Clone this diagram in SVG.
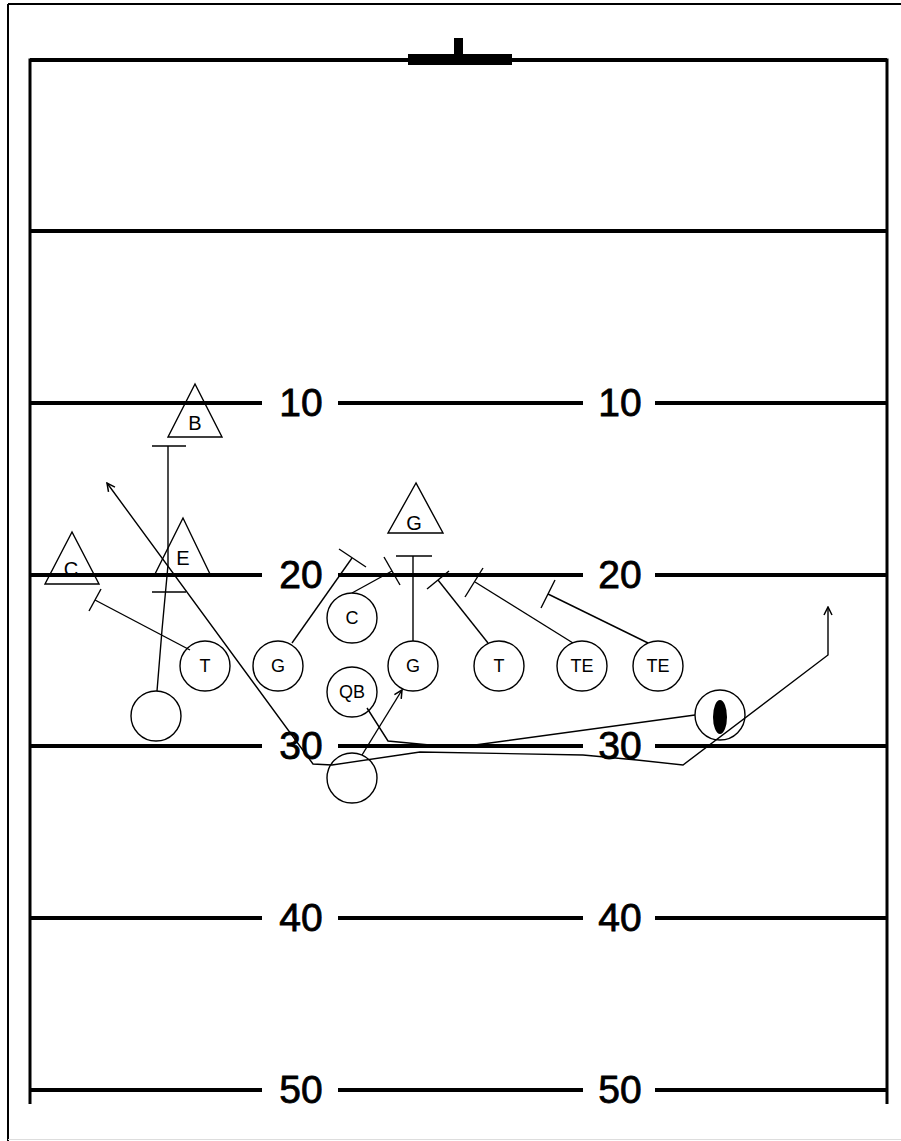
<svg xmlns="http://www.w3.org/2000/svg" width="901" height="1141" viewBox="0 0 901 1141">
<style>
.frame{stroke:#000;stroke-width:2;fill:none}
.field{stroke:#000;stroke-width:4;fill:none}
.side{stroke:#000;stroke-width:3;fill:none}
.num{font-family:"Liberation Sans",Arial,sans-serif;font-size:39px;fill:#000;stroke:#000;stroke-width:0.8;text-anchor:middle}
.pl{fill:none;stroke:#000;stroke-width:1.4}
.lbl{font-family:"Liberation Sans",Arial,sans-serif;font-size:18px;fill:#000;text-anchor:middle}
.tl{font-family:"Liberation Sans",Arial,sans-serif;font-size:20px;fill:#000;text-anchor:middle}
.rt{fill:none;stroke:#000;stroke-width:1.4}
</style>
<defs>
<marker id="arr" viewBox="0 0 10 10" refX="9" refY="5" markerWidth="10" markerHeight="10" markerUnits="userSpaceOnUse" orient="auto-start-reverse">
<path d="M1,1 L9,5 L1,9" fill="none" stroke="#000" stroke-width="1.5"/>
</marker>
</defs>
<rect width="901" height="1141" fill="#fff"/>
<g id="frame">
<line class="frame" x1="8" y1="4" x2="901" y2="4"/>
<line class="frame" x1="8" y1="4" x2="8" y2="1141"/>
<line x1="8" y1="1139.5" x2="901" y2="1139.5" stroke="#ddd" stroke-width="1"/>
</g>
<g id="field">
<polyline class="side" points="30,1104 30,60 887,60 887,1104"/>
<line class="field" x1="30" y1="60" x2="887" y2="60"/>
<rect x="408" y="54" width="104" height="11" fill="#000"/>
<rect x="454" y="38" width="9" height="17" fill="#000"/>
<line class="field" x1="30" y1="231" x2="887" y2="231"/>
<g id="yl10"><line class="field" x1="30" y1="403" x2="262" y2="403"/><line class="field" x1="338" y1="403" x2="583" y2="403"/><line class="field" x1="655" y1="403" x2="887" y2="403"/><text class="num" x="301" y="416">10</text><text class="num" x="620" y="416">10</text></g>
<g id="yl20"><line class="field" x1="30" y1="575" x2="262" y2="575"/><line class="field" x1="338" y1="575" x2="583" y2="575"/><line class="field" x1="655" y1="575" x2="887" y2="575"/><text class="num" x="301" y="588">20</text><text class="num" x="620" y="588">20</text></g>
<g id="yl30"><line class="field" x1="30" y1="746" x2="262" y2="746"/><line class="field" x1="338" y1="746" x2="583" y2="746"/><line class="field" x1="655" y1="746" x2="887" y2="746"/><text class="num" x="301" y="759">30</text><text class="num" x="620" y="759">30</text></g>
<g id="yl40"><line class="field" x1="30" y1="918" x2="262" y2="918"/><line class="field" x1="338" y1="918" x2="583" y2="918"/><line class="field" x1="655" y1="918" x2="887" y2="918"/><text class="num" x="301" y="931">40</text><text class="num" x="620" y="931">40</text></g>
<g id="yl50"><line class="field" x1="30" y1="1090" x2="262" y2="1090"/><line class="field" x1="338" y1="1090" x2="583" y2="1090"/><line class="field" x1="655" y1="1090" x2="887" y2="1090"/><text class="num" x="301" y="1103">50</text><text class="num" x="620" y="1103">50</text></g>
</g>
<g id="connectors">
<polyline class="rt" points="157,691 162,630 168,565 168,446"/>
<line class="rt" x1="152" y1="446" x2="186" y2="446"/>
<line class="rt" x1="152" y1="592" x2="186" y2="592"/>
<line class="rt" x1="190" y1="650" x2="95" y2="600"/>
<line class="rt" x1="89" y1="611" x2="101" y2="589"/>
<path class="rt" d="M107,483 L313,764 L332,765 L420,752 L583,755 L637,760 L683,765 L828,655 L828,607" marker-start="url(#arr)" marker-end="url(#arr)"/>
<polyline class="rt" points="367,708 388,741 440,746 475,745 695,715"/>
<line class="rt" x1="362" y1="755" x2="402" y2="690" marker-end="url(#arr)"/>
<line class="rt" x1="352" y1="593" x2="392" y2="571"/>
<line class="rt" x1="384" y1="557" x2="400" y2="585"/>
<line class="rt" x1="292" y1="643" x2="352" y2="558"/>
<line class="rt" x1="339" y1="549" x2="366" y2="567"/>
<line class="rt" x1="413" y1="641" x2="413" y2="556"/>
<line class="rt" x1="396" y1="556" x2="432" y2="556"/>
<line class="rt" x1="488" y1="643" x2="438" y2="580"/>
<line class="rt" x1="427" y1="589" x2="449" y2="571"/>
<line class="rt" x1="573" y1="643" x2="475" y2="582"/>
<line class="rt" x1="465" y1="597" x2="483" y2="568"/>
<line class="rt" x1="648" y1="643" x2="548" y2="594"/>
<line class="rt" x1="541" y1="608" x2="555" y2="580"/>
</g>
<g id="def-B"><polygon class="pl" points="195,384 168,437 222,437"/><text class="tl" x="195" y="430">B</text></g>
<g id="def-E"><polygon class="pl" points="183,518 155,574 210,574"/><text class="tl" x="183" y="565">E</text></g>
<g id="def-C"><polygon class="pl" points="72,532 45,584 99,584"/><text class="tl" x="71" y="576">C</text></g>
<g id="def-G"><polygon class="pl" points="416,483 388,533 443,533"/><text class="tl" x="414" y="530">G</text></g>
<g id="off-T1"><circle class="pl" cx="205" cy="666" r="25"/><text class="lbl" x="205" y="672">T</text></g>
<g id="off-G1"><circle class="pl" cx="278" cy="666" r="25"/><text class="lbl" x="278" y="672">G</text></g>
<g id="off-C"><circle class="pl" cx="352" cy="618" r="25"/><text class="lbl" x="352" y="624">C</text></g>
<g id="off-G2"><circle class="pl" cx="413" cy="666" r="25"/><text class="lbl" x="413" y="672">G</text></g>
<g id="off-T2"><circle class="pl" cx="499" cy="666" r="25"/><text class="lbl" x="499" y="672">T</text></g>
<g id="off-TE1"><circle class="pl" cx="582" cy="666" r="25"/><text class="lbl" x="582" y="672">TE</text></g>
<g id="off-TE2"><circle class="pl" cx="658" cy="666" r="25"/><text class="lbl" x="658" y="672">TE</text></g>
<g id="off-QB"><circle class="pl" cx="352" cy="692" r="25"/><text class="lbl" x="352" y="698">QB</text></g>
<g id="off-L"><circle class="pl" cx="156" cy="716" r="25"/></g>
<g id="off-B"><circle class="pl" cx="352" cy="778" r="25"/></g>
<g id="ball"><circle class="pl" cx="720" cy="715" r="25"/><ellipse cx="720" cy="717" rx="7" ry="17" fill="#000"/></g>
</svg>
